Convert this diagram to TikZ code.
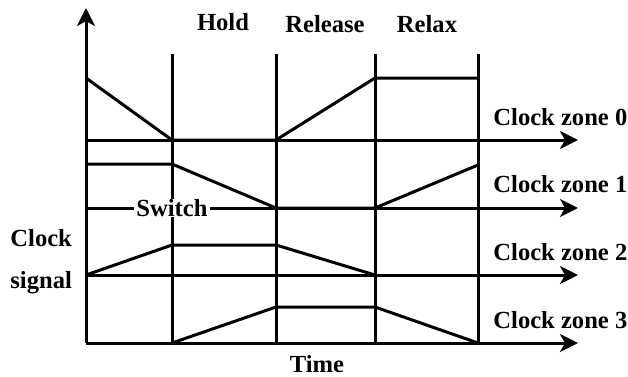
\documentclass[tikz,border=0pt]{standalone}
\usepackage{fontspec}
\setmainfont{Liberation Serif}
\usetikzlibrary{arrows.meta}

\begin{document}
\begin{tikzpicture}[x=0.5pt,y=-0.5pt, axis line/.style={line width=1.5pt,-{Stealth[length=9pt,width=9pt,inset=2.5pt]}}, phase line/.style={line width=1.5pt}, wave line/.style={line width=1.5pt}, label text/.style={font=\fontsize{12.3}{14}\selectfont\bfseries,inner sep=0pt}]
  \useasboundingbox (0,0) rectangle (628,376);

  \coordinate (o) at (86,343);
  \coordinate (top) at (86,8);
  \draw[axis line] (o) -- (top);
  \foreach \i/\y in {0/140,1/208,2/275,3/343} {
    \coordinate (b\i) at (86,\y);
    \coordinate (e\i) at (578,\y);
    \draw[axis line] (b\i) -- (e\i);
  }
  \foreach \i/\x in {1/172,2/276,3/375,4/478} {
    \coordinate (t\i) at (\x,54);
    \coordinate (f\i) at (\x,343);
    \draw[phase line] (t\i) -- (f\i);
  }

  \coordinate (w0a) at (86,78);
  \coordinate (w0b) at (172,140);
  \coordinate (w0c) at (276,140);
  \coordinate (w0d) at (375,78);
  \coordinate (w0e) at (478,78);
  \draw[wave line] (w0a) -- (w0b) -- (w0c) -- (w0d) -- (w0e);

  \coordinate (w1a) at (86,164);
  \coordinate (w1b) at (172,164);
  \coordinate (w1c) at (276,208);
  \coordinate (w1d) at (375,208);
  \coordinate (w1e) at (478,165);
  \draw[wave line] (w1a) -- (w1b) -- (w1c) -- (w1d) -- (w1e);

  \coordinate (w2a) at (86,275);
  \coordinate (w2b) at (172,245);
  \coordinate (w2c) at (276,245);
  \coordinate (w2d) at (375,275);
  \draw[wave line] (w2a) -- (w2b) -- (w2c) -- (w2d);

  \coordinate (w3a) at (172,343);
  \coordinate (w3b) at (276,307);
  \coordinate (w3c) at (375,307);
  \coordinate (w3d) at (478,343);
  \draw[wave line] (w3a) -- (w3b) -- (w3c) -- (w3d);

  \node[label text,fill=white,inner xsep=1pt] (switch) at (172,208) {Switch};

  \node[label text] (hold) at (223,22) {Hold};
  \node[label text] (release) at (325,24) {Release};
  \node[label text] (relax) at (427,24) {Relax};

  \node[label text,anchor=west] (zone0) at (493,117) {Clock zone 0};
  \node[label text,anchor=west] (zone1) at (493,184) {Clock zone 1};
  \node[label text,anchor=west] (zone2) at (493,252) {Clock zone 2};
  \node[label text,anchor=west] (zone3) at (493,320) {Clock zone 3};

  \node[label text,anchor=west] (clock) at (10,238) {Clock};
  \node[label text,anchor=west] (signal) at (10,283) {signal};
  \node[label text] (time) at (317,364) {Time};
\end{tikzpicture}
\end{document}
